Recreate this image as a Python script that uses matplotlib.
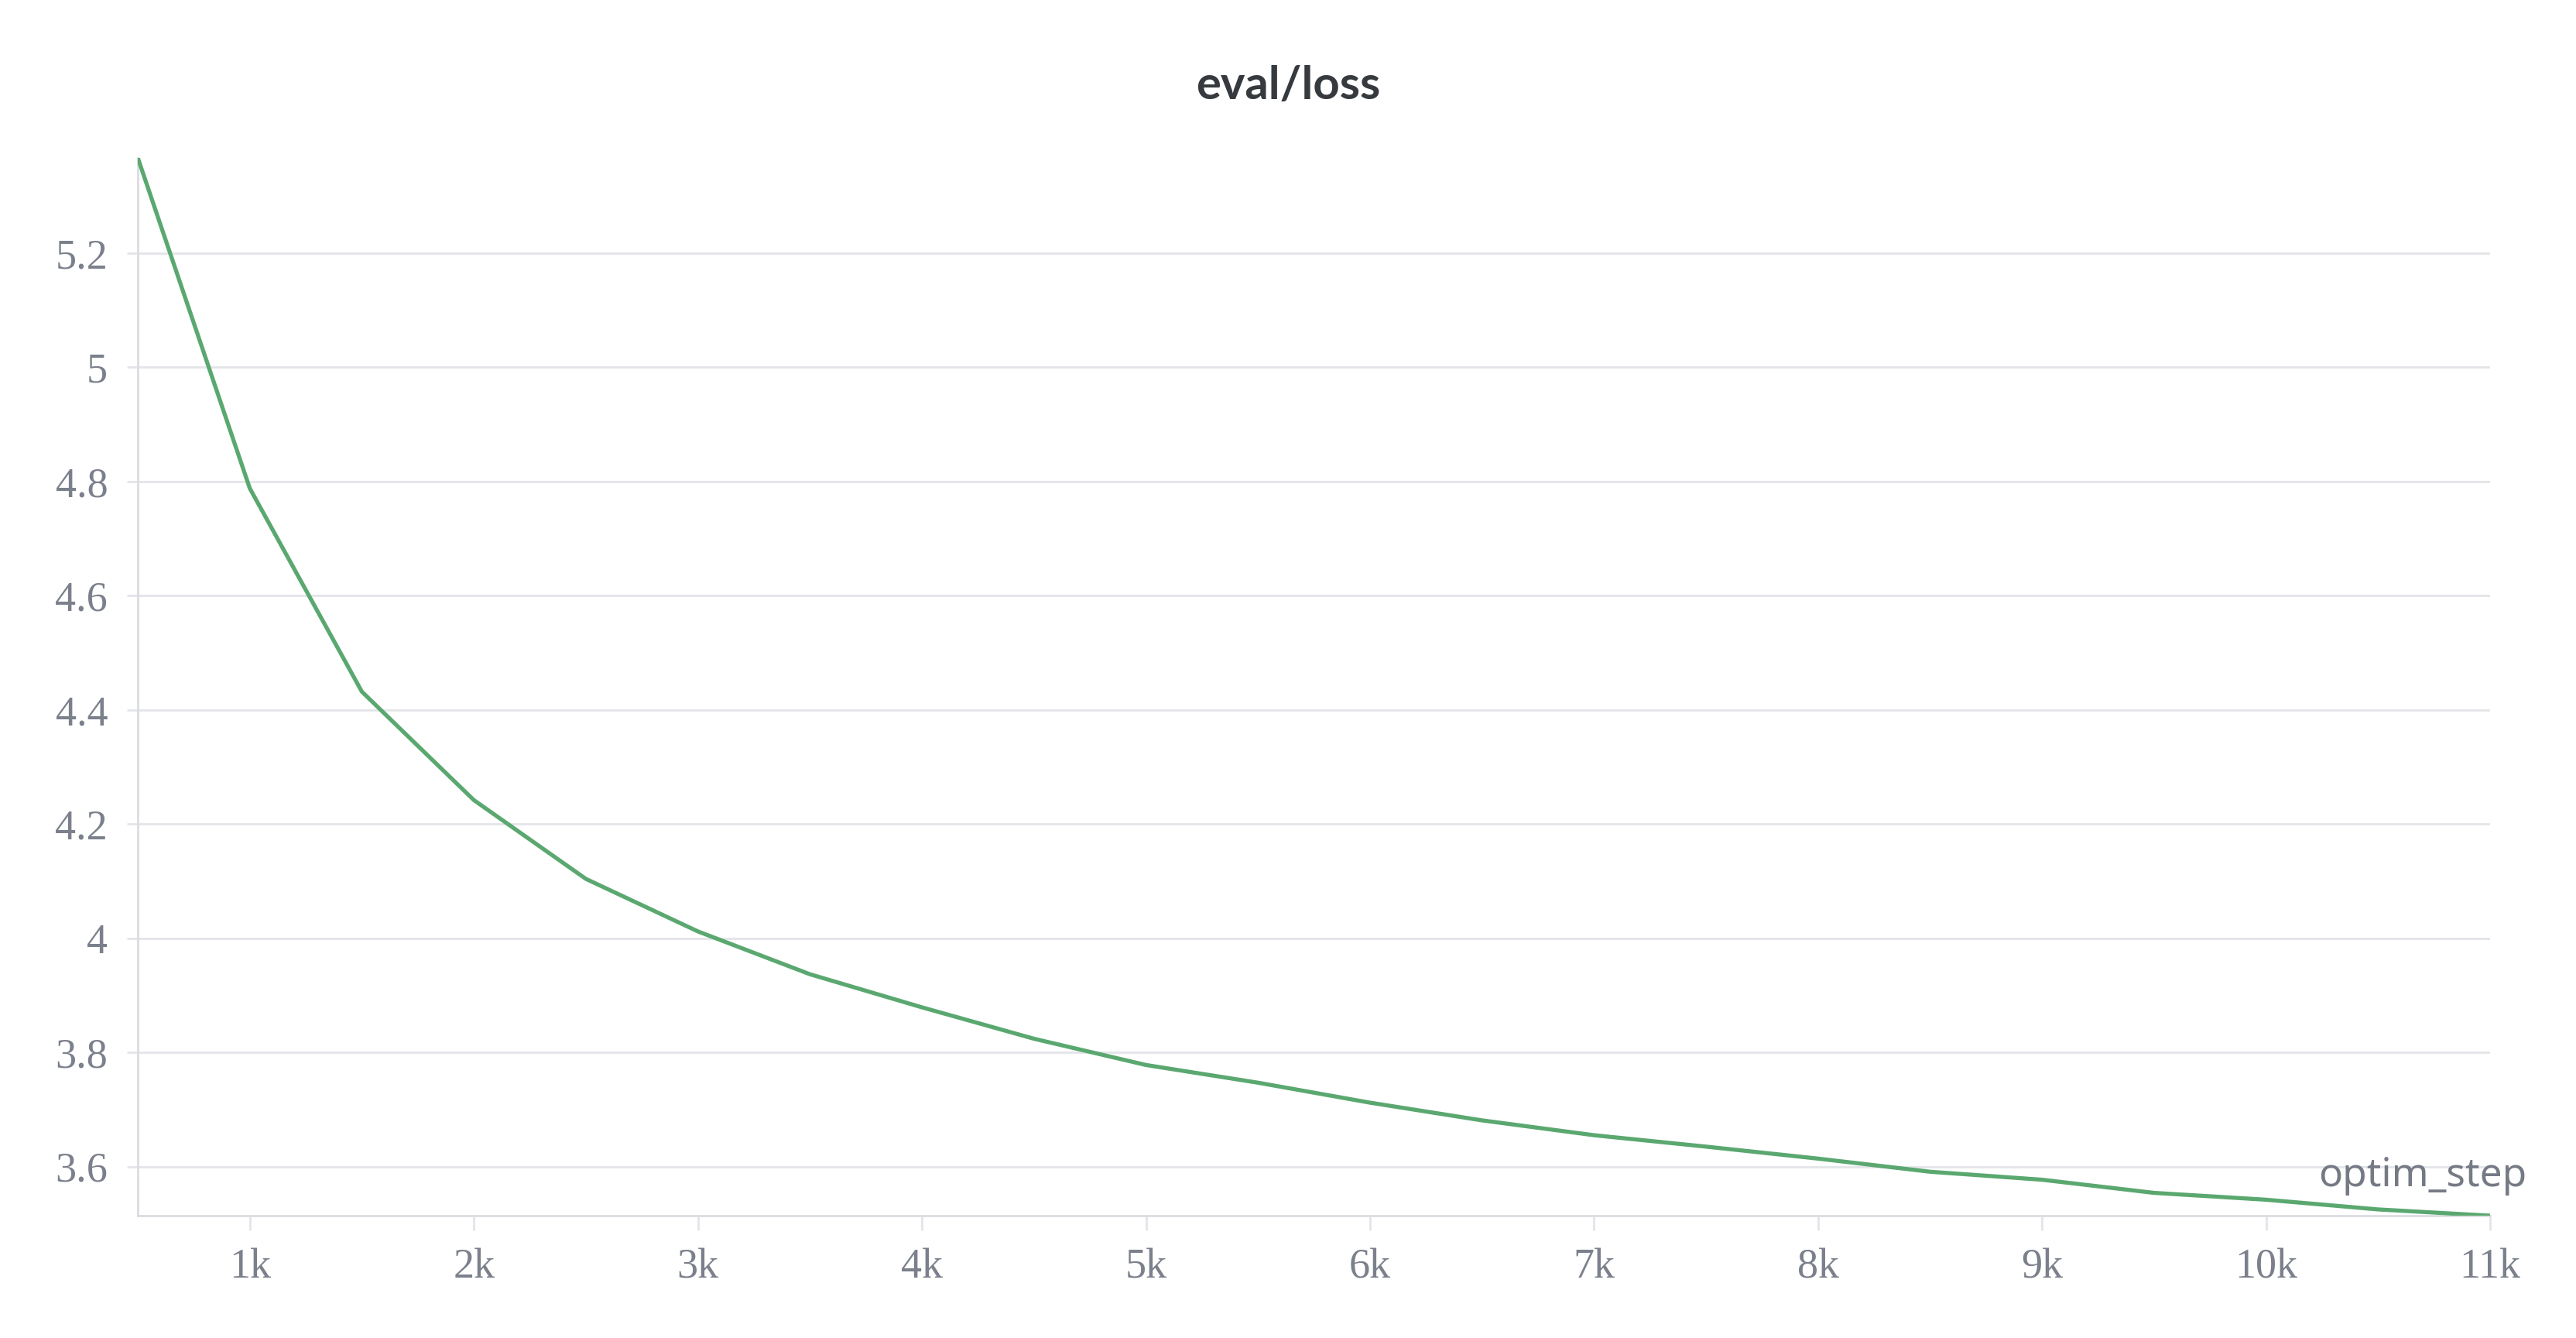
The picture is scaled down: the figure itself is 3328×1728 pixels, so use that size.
import matplotlib
matplotlib.use("Agg")
import matplotlib.pyplot as plt
from matplotlib.ticker import FuncFormatter, MultipleLocator

# eval/loss, one point every 500 optim steps
steps = [500, 1000, 1500, 2000, 2500, 3000, 3500, 4000, 4500, 5000, 5500,
         6000, 6500, 7000, 7500, 8000, 8500, 9000, 9500, 10000, 10500, 11000]
loss = [5.367, 4.788, 4.432, 4.242, 4.104, 4.012, 3.937, 3.879, 3.824, 3.778, 3.747,
        3.712, 3.681, 3.655, 3.635, 3.614, 3.591, 3.577, 3.554, 3.542, 3.525, 3.514]

title = "eval/loss"
xlabel = "optim_step"

grid_color = "#e4e5e9"
tick_color = "#7b808c"
line_color = "#5aa870"

fig = plt.figure(figsize=(16.64, 8.64), dpi=200)
ax = fig.add_axes([0.0535, 0.0914, 0.9132, 0.7906])

ax.plot(steps, loss, color=line_color, lw=1.9, solid_capstyle="round", zorder=3)

ax.set_xlim(500, 11000)
ax.set_ylim(3.514, 5.367)
ax.xaxis.set_major_locator(MultipleLocator(1000))
ax.yaxis.set_major_locator(MultipleLocator(0.2))
ax.xaxis.set_major_formatter(FuncFormatter(lambda v, p: f"{v / 1000:g}k"))
ax.yaxis.set_major_formatter(FuncFormatter(lambda v, p: f"{v:g}"))

ax.grid(axis="y", color=grid_color, lw=1.0, zorder=0)
for s in ["top", "right"]:
    ax.spines[s].set_visible(False)
for s in ["left", "bottom"]:
    ax.spines[s].set_color("#dcdde1")
    ax.spines[s].set_linewidth(1.0)

ax.tick_params(axis="both", colors=grid_color, labelcolor=tick_color,
               labelsize=19.5, width=1.0)
ax.tick_params(axis="y", length=5, pad=9)
ax.tick_params(axis="x", length=7, pad=8)
for lab in ax.get_xticklabels() + ax.get_yticklabels():
    lab.set_family("Liberation Serif")

fig.text(0.5, 0.936, title, ha="center", va="center", fontsize=21.5,
         fontweight="bold", color="#363a3e", family="Lato")
fig.text(0.981, 0.121, xlabel, ha="right", va="center", fontsize=18.5,
         color="#757a85", family="Noto Sans")

fig.savefig("out.png", dpi=200, facecolor="white")
